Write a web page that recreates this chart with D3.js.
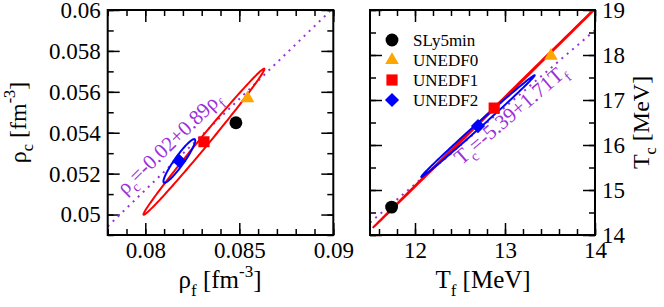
<!DOCTYPE html>
<html>
<head>
<meta charset="utf-8">
<script src="https://cdn.jsdelivr.net/npm/d3@7"></script>
<style>
  body { margin: 0; background: #fff; }
  svg, svg text { display: block; font-family: "Liberation Serif", "Times New Roman", Times, serif; }
</style>
</head>
<body>
<div id="chart"></div>
<script>
// models and their markers
const models = ['SLy5min', 'UNEDF0', 'UNEDF1', 'UNEDF2'];
const modelColors = ['#000000', '#ffa500', '#ff0000', '#0000ff'];
const modelSymbols = [d3.symbolCircle, d3.symbolTriangle, d3.symbolSquare, d3.symbolSquare];
const modelSizes = [130, 80, 125, 100];
const modelRotate = [0, 0, 0, 45];

// densities [fm^-3]
const rhoF = [0.08482, 0.08544, 0.08312, 0.08181];
const rhoC = [0.05449, 0.05568, 0.05356, 0.05262];
// temperatures [MeV]
const tempF = [11.74, 13.51, 12.88, 12.70];
const tempC = [14.62, 17.98, 16.82, 16.42];

// error ellipses around UNEDF1 and UNEDF2 (half axes as data vectors)
const ellipseModels = [2, 3];
const rhoMajor = [[0.00321, 0.00357], [0.00082, 0.00106]];
const rhoMinor = [[0.00019, -0.000145], [0.00020, -0.000135]];
const tempMajor = [[1.348, 2.659], [0.63, 1.13]];
const tempMinor = [[0.0045, -0.009], [0.0185, -0.0414]];

// linear fits: [intercept, slope]
const rhoFit = [-0.02, 0.89];
const tempFit = [-5.39, 1.71];

// axes
const rhoXDomain = [0.078, 0.09];
const rhoYDomain = [0.049, 0.06];
const tempXDomain = [11.5, 14];
const tempYDomain = [14, 19];
const rhoXTicks = [0.08, 0.085, 0.09];
const rhoYTicks = [0.05, 0.052, 0.054, 0.056, 0.058, 0.06];
const tempXTicks = [12, 13, 14];
const tempYTicks = [14, 15, 16, 17, 18, 19];
const rhoXMinor = d3.range(78, 91).map(v => v / 1000);
const rhoYMinor = d3.range(49, 61).map(v => v / 1000);
const tempXMinor = d3.range(58, 71).map(v => v / 5);
const tempYMinor = d3.range(28, 39).map(v => v / 2);

const width = 664;
const height = 307;
const purple = '#9b30d9';
const serif = '"Liberation Serif", "Times New Roman", Times, serif';

const svg = d3.select('#chart').append('svg')
    .attr('width', width)
    .attr('height', height)
    .attr('font-family', serif);

const symbolPath = i => d3.symbol().type(modelSymbols[i]).size(modelSizes[i])();

// write text made of normal / sub / sup parts
function richText(sel, parts, fs) {
  let shift = 0;
  parts.forEach(p => {
    const target = p.sub ? 0.3 * fs : p.sup ? -0.45 * fs : 0;
    sel.append('tspan')
      .attr('dy', target - shift)
      .attr('font-size', p.sub || p.sup ? fs * 0.68 : fs)
      .text(p.t);
    shift = target;
  });
}

function drawPanel(cfg) {
  const x = d3.scaleLinear().domain(cfg.xDomain).range([cfg.left, cfg.right]);
  const y = d3.scaleLinear().domain(cfg.yDomain).range([235, 10]);
  const g = svg.append('g');

  const clipId = 'clip-' + cfg.name;
  svg.append('clipPath').attr('id', clipId)
    .append('rect')
      .attr('x', cfg.left).attr('y', 10)
      .attr('width', cfg.right - cfg.left).attr('height', 225);

  // ticks, all pointing inwards
  const axes = [
    [d3.axisBottom(x), 'translate(0,235)', cfg.xTicks, cfg.xMinor, true],
    [d3.axisTop(x), 'translate(0,10)', cfg.xTicks, cfg.xMinor, false],
    [d3.axisLeft(y), `translate(${cfg.left},0)`, cfg.yTicks, cfg.yMinor, cfg.yLabelsLeft],
    [d3.axisRight(y), `translate(${cfg.right},0)`, cfg.yTicks, cfg.yMinor, !cfg.yLabelsLeft]
  ];
  axes.forEach(([axis, tr, major, minor, labels]) => {
    g.append('g').attr('transform', tr)
      .call(axis.tickValues(minor).tickSize(-6).tickFormat(''))
      .call(a => a.select('.domain').remove());
    const ag = g.append('g').attr('transform', tr)
      .call(axis.tickValues(major).tickSize(-12).tickPadding(labels ? 7 : 0)
        .tickFormat(labels ? d3.format('') : ''))
      .call(a => a.select('.domain').remove())
      .attr('font-family', serif)
      .attr('font-size', 23);
    ag.selectAll('text').attr('fill', '#000');
  });
  g.selectAll('.tick line').attr('stroke', '#000').attr('stroke-width', 1.5);

  const plot = g.append('g').attr('clip-path', `url(#${clipId})`);

  // dotted linear fit
  const f = v => cfg.fit[0] + cfg.fit[1] * v;
  plot.append('line')
    .attr('x1', x(cfg.xDomain[0]))
    .attr('y1', y(f(cfg.xDomain[0])))
    .attr('x2', x(cfg.xDomain[1]))
    .attr('y2', y(f(cfg.xDomain[1])))
    .attr('stroke', purple)
    .attr('stroke-width', 2)
    .attr('stroke-dasharray', '2,5');

  // ellipses
  const ellipseLine = d3.line().x(d => x(d[0])).y(d => y(d[1])).curve(d3.curveLinearClosed);
  ellipseModels.forEach((m, i) => {
    const a = cfg.major[i], b = cfg.minor[i];
    const pts = d3.range(0, 360, 2).map(deg => {
      const t = deg * Math.PI / 180;
      return [cfg.xs[m] + a[0] * Math.cos(t) + b[0] * Math.sin(t),
              cfg.ys[m] + a[1] * Math.cos(t) + b[1] * Math.sin(t)];
    });
    plot.append('path')
      .attr('d', ellipseLine(pts))
      .attr('fill', 'none')
      .attr('stroke', modelColors[m])
      .attr('stroke-width', 2);
  });

  // model points
  plot.selectAll('path.pt')
    .data(models)
    .enter().append('path')
    .attr('class', 'pt')
    .attr('transform', (d, i) => `translate(${x(cfg.xs[i])},${y(cfg.ys[i])}) rotate(${modelRotate[i]})`)
    .attr('d', (d, i) => symbolPath(i))
    .attr('fill', (d, i) => modelColors[i]);

  // fit equation along the line
  const ang = Math.atan2(y(f(cfg.xDomain[1])) - y(f(cfg.xDomain[0])),
                         x(cfg.xDomain[1]) - x(cfg.xDomain[0])) * 180 / Math.PI;
  const eq = g.append('text')
    .attr('transform', `translate(${x(cfg.eqAt)},${y(f(cfg.eqAt))}) rotate(${ang}) translate(0,${cfg.eqOffset})`)
    .attr('fill', purple);
  richText(eq, cfg.eqParts, 21);

  // frame
  g.append('rect')
    .attr('x', cfg.left).attr('y', 10)
    .attr('width', cfg.right - cfg.left).attr('height', 225)
    .attr('fill', 'none')
    .attr('stroke', '#000')
    .attr('stroke-width', 2);

  // axis titles
  const xt = g.append('text')
    .attr('x', cfg.xTitleX).attr('y', 288)
    .attr('text-anchor', 'middle');
  richText(xt, cfg.xTitle, 25);
  const yt = g.append('text')
    .attr('transform', `translate(${cfg.yTitleX},122.5) rotate(-90)`)
    .attr('text-anchor', 'middle');
  richText(yt, cfg.yTitle, 24);

  return { g, x, y };
}

drawPanel({
  name: 'rho', left: 107.7, right: 333.3,
  xDomain: rhoXDomain, yDomain: rhoYDomain,
  xTicks: rhoXTicks, yTicks: rhoYTicks, xMinor: rhoXMinor, yMinor: rhoYMinor,
  yLabelsLeft: true,
  xs: rhoF, ys: rhoC, major: rhoMajor, minor: rhoMinor, fit: rhoFit,
  eqAt: 0.0793, eqOffset: -10,
  eqParts: [{ t: 'ρ' }, { t: 'c', sub: true }, { t: '=-0.02+0.89ρ' }, { t: 'f', sub: true }],
  xTitleX: 220, xTitle: [{ t: 'ρ' }, { t: 'f', sub: true }, { t: ' [fm' }, { t: '-3', sup: true }, { t: ']' }],
  yTitleX: 26, yTitle: [{ t: 'ρ' }, { t: 'c', sub: true }, { t: ' [fm' }, { t: '-3', sup: true }, { t: ']' }]
});

const right = drawPanel({
  name: 'temp', left: 370, right: 595,
  xDomain: tempXDomain, yDomain: tempYDomain,
  xTicks: tempXTicks, yTicks: tempYTicks, xMinor: tempXMinor, yMinor: tempYMinor,
  yLabelsLeft: false,
  xs: tempF, ys: tempC, major: tempMajor, minor: tempMinor, fit: tempFit,
  eqAt: 12.40, eqOffset: 16,
  eqParts: [{ t: 'T' }, { t: 'c', sub: true }, { t: '=-5.39+1.71T' }, { t: 'f', sub: true }],
  xTitleX: 483, xTitle: [{ t: 'T' }, { t: 'f', sub: true }, { t: ' [MeV]' }],
  yTitleX: 649, yTitle: [{ t: 'T' }, { t: 'c', sub: true }, { t: ' [MeV]' }]
});

// legend
const legend = right.g.append('g')
  .selectAll('g')
  .data(models)
  .enter().append('g')
  .attr('transform', (d, i) => `translate(392,${40 + i * 20})`);
legend.append('path')
  .attr('transform', (d, i) => `rotate(${modelRotate[i]})`)
  .attr('d', (d, i) => symbolPath(i))
  .attr('fill', (d, i) => modelColors[i]);
legend.append('text')
  .attr('x', 21)
  .attr('dy', '0.33em')
  .attr('font-size', 17)
  .attr('font-family', serif)
  .text(d => d);
</script>
</body>
</html>
